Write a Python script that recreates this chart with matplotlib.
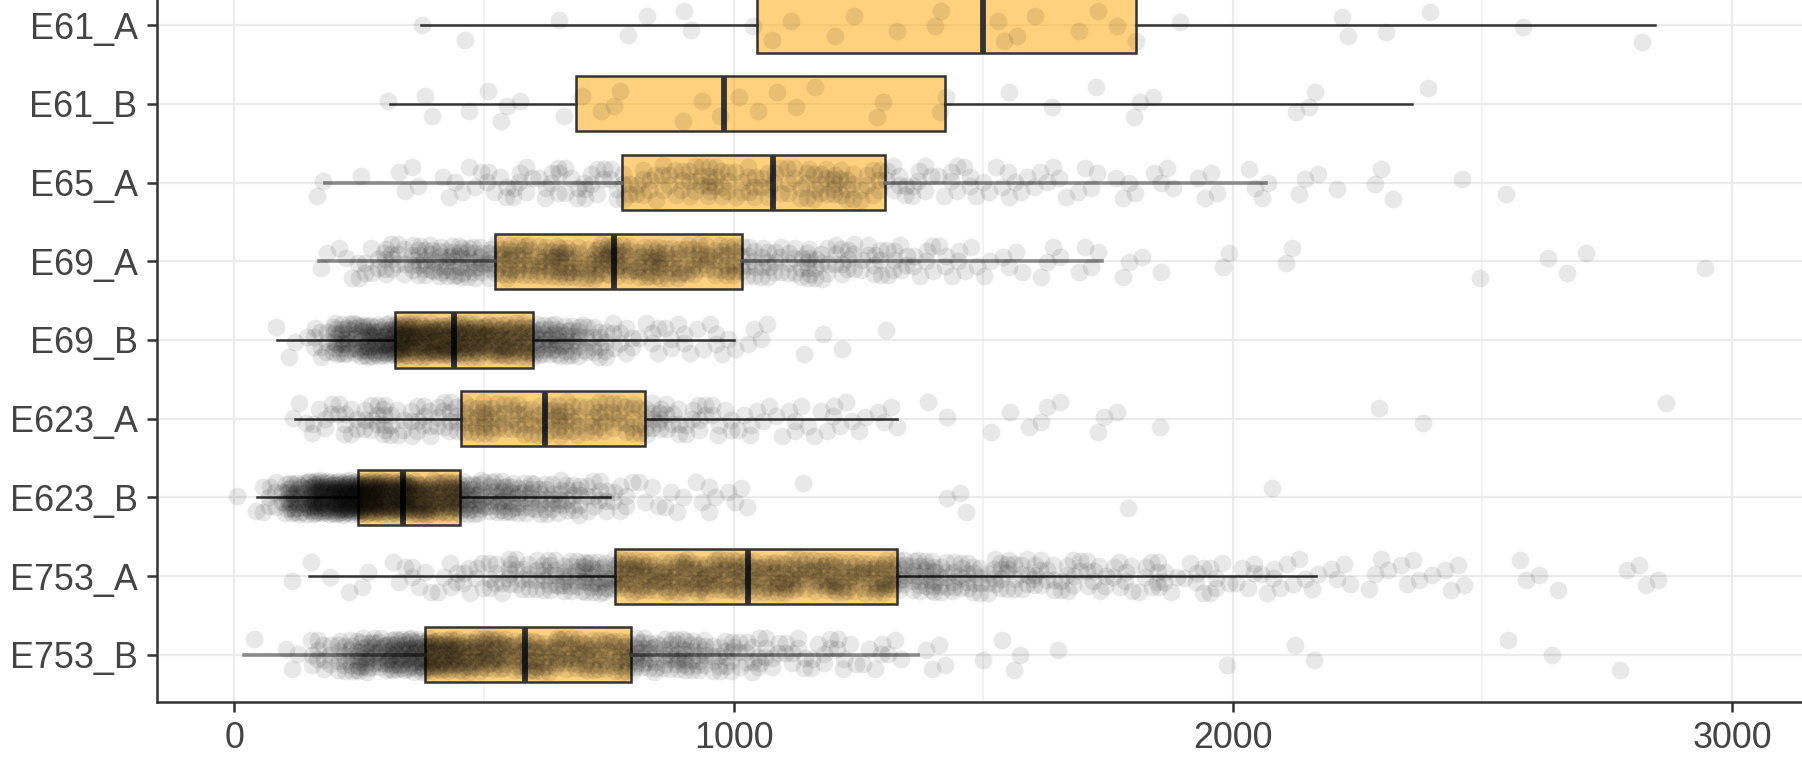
import matplotlib
matplotlib.use("Agg")
import matplotlib.pyplot as plt
import numpy as np

plt.rcParams['font.family'] = ['Liberation Sans', 'DejaVu Sans']

# categories from top to bottom
categories = ["E61_A", "E61_B", "E65_A", "E69_A", "E69_B",
              "E623_A", "E623_B", "E753_A", "E753_B"]

# box statistics
q1 = [1047, 684, 776, 523, 322, 454, 247, 762, 382]
medians = [1499, 981, 1079, 761, 439, 622, 337, 1029, 582]
q3 = [1805, 1423, 1303, 1016, 598, 822, 452, 1328, 795]
whisker_lo = [374, 311, 181, 170, 86, 121, 46, 149, 19]
whisker_hi = [2845, 2359, 2066, 1738, 1001, 1328, 753, 2166, 1369]
grey_whisker = ["E65_A", "E69_A", "E753_B"]

# jittered observations: counts per 50-unit bin (0-50, 50-100, ...)
bin_width = 50
counts_E61_A = [0, 0, 0, 0, 0, 0, 0, 1, 0, 1, 0, 0, 0, 1, 0, 1, 1, 0, 2, 0,
                1, 1, 1, 0, 2, 0, 1, 0, 2, 0, 2, 1, 1, 1, 1, 1, 1, 1, 0, 0,
                0, 0, 0, 0, 2, 0, 1, 1, 0, 0, 0, 1, 0, 0, 0, 0, 1, 0, 0, 0]
counts_E61_B = [0, 0, 0, 0, 0, 0, 1, 2, 0, 1, 3, 1, 0, 2, 1, 2, 0, 1, 1, 1,
                2, 1, 1, 1, 0, 2, 0, 0, 2, 0, 0, 1, 1, 0, 1, 0, 3, 0, 0, 0,
                0, 0, 1, 2, 0, 0, 0, 1, 0, 0, 0, 0, 0, 0, 0, 0, 0, 0, 0, 0]
counts_E65_A = [0, 0, 0, 2, 0, 1, 2, 2, 3, 4, 6, 7, 7, 7, 8, 9, 9, 10, 12, 12,
                10, 9, 10, 12, 12, 9, 8, 7, 6, 5, 4, 4, 4, 3, 3, 3, 2, 3, 2, 2,
                2, 2, 2, 1, 1, 2, 1, 0, 0, 1, 1, 0, 0, 0, 0, 0, 0, 0, 0, 0]
counts_E69_A = [0, 0, 0, 2, 4, 8, 14, 20, 24, 24, 22, 22, 24, 24, 26, 26, 24, 22, 20, 18,
                16, 14, 13, 12, 12, 10, 9, 7, 5, 4, 3, 3, 3, 2, 3, 2, 1, 1, 0, 2,
                0, 0, 2, 0, 0, 0, 0, 0, 0, 1, 0, 0, 1, 1, 1, 0, 0, 0, 1, 0]
counts_E69_B = [0, 1, 3, 12, 35, 50, 60, 52, 50, 46, 42, 38, 32, 26, 16, 9, 6, 5, 4, 5,
                3, 2, 1, 1, 1, 0, 1, 0, 0, 0, 0, 0, 0, 0, 0, 0, 0, 0, 0, 0,
                0, 0, 0, 0, 0, 0, 0, 0, 0, 0, 0, 0, 0, 0, 0, 0, 0, 0, 0, 0]
counts_E623_A = [0, 0, 3, 7, 9, 12, 10, 12, 14, 16, 16, 16, 16, 16, 15, 14, 14, 11, 9, 7,
                 5, 4, 5, 4, 4, 3, 3, 1, 1, 0, 1, 2, 2, 1, 2, 1, 0, 1, 0, 0,
                 0, 0, 0, 0, 0, 1, 0, 1, 0, 0, 0, 0, 0, 0, 0, 0, 0, 1, 0, 0]
counts_E623_B = [2, 10, 45, 80, 95, 85, 70, 55, 45, 36, 30, 24, 20, 17, 12, 7, 4, 4, 3, 3,
                 3, 0, 1, 0, 0, 0, 0, 0, 1, 2, 0, 0, 0, 0, 0, 1, 0, 0, 0, 0,
                 0, 1, 0, 0, 0, 0, 0, 0, 0, 0, 0, 0, 0, 0, 0, 0, 0, 0, 0, 0]
counts_E753_A = [0, 0, 1, 2, 1, 2, 3, 5, 6, 8, 10, 14, 18, 22, 26, 28, 26, 26, 26, 26,
                 26, 26, 25, 25, 24, 24, 24, 22, 18, 16, 14, 12, 11, 10, 9, 8, 7, 6, 6, 6,
                 5, 5, 4, 3, 3, 3, 3, 3, 2, 2, 0, 2, 1, 1, 0, 1, 2, 1, 0, 0]
counts_E753_B = [1, 0, 3, 12, 22, 35, 45, 50, 45, 36, 32, 28, 26, 25, 24, 26, 26, 24, 20, 16,
                 12, 9, 8, 7, 6, 5, 3, 2, 2, 1, 1, 2, 1, 0, 0, 0, 0, 0, 0, 1,
                 0, 0, 1, 1, 0, 0, 0, 0, 0, 0, 0, 1, 1, 0, 0, 1, 0, 0, 0, 0]
point_counts = [counts_E61_A, counts_E61_B, counts_E65_A, counts_E69_A, counts_E69_B,
                counts_E623_A, counts_E623_B, counts_E753_A, counts_E753_B]

n = len(categories)
positions = [n - 1 - i for i in range(n)]

fig = plt.figure(figsize=(18.02, 7.57), dpi=100)
ax = fig.add_axes([157 / 1802, 55 / 757, 1 - 157 / 1802, 724 / 757])

stats = []
for i, name in enumerate(categories):
    stats.append(dict(label=name, q1=q1[i], med=medians[i], q3=q3[i],
                      whislo=whisker_lo[i], whishi=whisker_hi[i], fliers=[]))

bp = ax.bxp(stats, positions=positions, orientation='horizontal', widths=0.7,
            patch_artist=True, showfliers=False, showcaps=False,
            boxprops=dict(facecolor=(1.0, 0.647, 0.0, 0.5), edgecolor='#333333', linewidth=1.8),
            medianprops=dict(color='#333333', linewidth=4.2, solid_capstyle='butt'),
            whiskerprops=dict(color='#333333', linewidth=1.8))
for i, name in enumerate(categories):
    if name in grey_whisker:
        for w in bp['whiskers'][2 * i:2 * i + 2]:
            w.set_color('#8a8a8a')
            w.set_linewidth(2.6)

# jitter (display only), low-discrepancy offsets inside each bin
a1, a2 = 0.7548776662466927, 0.5698402909980532
xs, ys = [], []
k = 0
for i, counts in enumerate(point_counts):
    for b, c in enumerate(counts):
        idx = np.arange(k, k + c)
        k += c
        xs.extend(b * bin_width + bin_width * ((0.5 + idx * a1) % 1))
        ys.extend(positions[i] + 0.44 * (((0.5 + idx * a2) % 1) - 0.5))
ax.scatter(xs, ys, s=165, color='black', alpha=0.09, linewidths=0, zorder=4)

ax.set_xlim(-155, 3140)
ax.set_ylim(-0.6, n - 1 + 0.6)
ax.set_xticks([0, 1000, 2000, 3000])
ax.set_xticks([500, 1500, 2500], minor=True)
ax.set_yticks(positions)
ax.set_yticklabels(categories)

ax.set_axisbelow(True)
ax.grid(which='major', color='#EBEBEB', linewidth=1.6)
ax.grid(which='minor', axis='x', color='#F0F0F0', linewidth=1.2)

for side in ['top', 'right']:
    ax.spines[side].set_visible(False)
for side in ['left', 'bottom']:
    ax.spines[side].set_color('#333333')
    ax.spines[side].set_linewidth(1.8)

ax.tick_params(which='major', length=7, width=1.8, color='#333333',
               labelsize=25.8, labelcolor='#444444', pad=7)
ax.tick_params(which='minor', length=0)

fig.savefig('out.png', dpi=100)
